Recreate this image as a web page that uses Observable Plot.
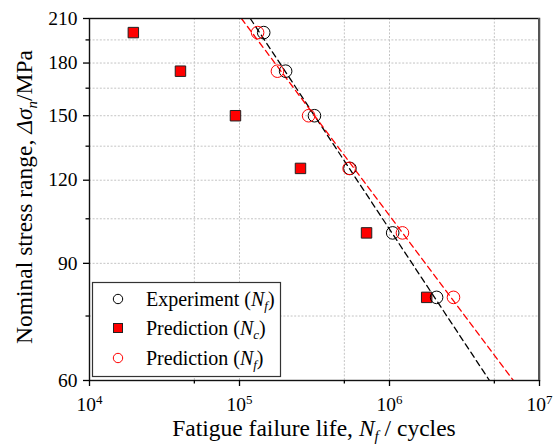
<!DOCTYPE html>
<html>
<head>
<meta charset="utf-8">
<script src="https://cdn.jsdelivr.net/npm/d3@7"></script>
<script src="https://cdn.jsdelivr.net/npm/@observablehq/plot@0.6"></script>
<style>
  html, body { margin: 0; padding: 0; background: white; }
  #chart svg { display: block; }
  #chart svg, #chart svg text, #chart svg tspan { font-family: "Liberation Serif", "Times New Roman", serif !important; }
</style>
</head>
<body>
<div id="chart"></div>
<script>
// Stress ranges (MPa)
const stressLevels = [200, 175, 150, 125, 100, 80];
// Fatigue lives (cycles)
const experimentNf = [1.45e5, 2.03e5, 3.16e5, 5.45e5, 1.05e6, 2.06e6];
const predictionNc = [1.96e4, 4.04e4, 9.4e4, 2.55e5, 7.03e5, 1.77e6];
const predictionNf = [1.32e5, 1.79e5, 2.89e5, 5.38e5, 1.22e6, 2.67e6];
// Fitted S-N lines (end points)
const expFitN = [1.18e5, 4.64e6];
const expFitS = [210, 60];
const predFitN = [1.03e5, 6.7e6];
const predFitS = [210, 60];
// Axis ticks
const xMajorTicks = [1e4, 1e5, 1e6, 1e7];
const xMinorTicks = [5e4, 5e5, 5e6];
const yMajorTicks = [60, 90, 120, 150, 180, 210];
const yMinorTicks = [75, 105, 135, 165, 195];

const expData = stressLevels.map((s, i) => ({S: s, N: experimentNf[i]}));
const ncData = stressLevels.map((s, i) => ({S: s, N: predictionNc[i]}));
const nfData = stressLevels.map((s, i) => ({S: s, N: predictionNf[i]}));
const expFit = expFitN.map((n, i) => ({N: n, S: expFitS[i]}));
const predFit = predFitN.map((n, i) => ({N: n, S: predFitS[i]}));

const gridStyle = {stroke: "#c4c4c4", strokeOpacity: 1, strokeDasharray: "2,1.6", strokeWidth: 1};

const svg = Plot.plot({
  width: 559,
  height: 445,
  marginLeft: 89,
  marginRight: 20,
  marginTop: 18,
  marginBottom: 65,
  x: {type: "log", domain: [1e4, 1e7]},
  y: {type: "log", domain: [60, 210]},
  style: {fontSize: "19.5px", color: "#000", background: "white"},
  marks: [
    Plot.gridX(xMinorTicks.concat([1e5, 1e6]), gridStyle),
    Plot.gridY(yMinorTicks.concat([90, 120, 150, 180]), gridStyle),
    Plot.line(expFit, {x: "N", y: "S", stroke: "black", strokeWidth: 1.3, strokeDasharray: "6,4", clip: true}),
    Plot.line(predFit, {x: "N", y: "S", stroke: "red", strokeWidth: 1.3, strokeDasharray: "6,4", clip: true}),
    Plot.dot(ncData, {x: "N", y: "S", symbol: "square", r: 5.9, fill: "red", stroke: "#222", strokeWidth: 1}),
    Plot.dot(expData, {x: "N", y: "S", symbol: "circle", r: 6.3, fill: "none", stroke: "black", strokeWidth: 1}),
    Plot.dot(nfData, {x: "N", y: "S", symbol: "circle", r: 6.3, fill: "none", stroke: "red", strokeWidth: 1}),
    Plot.frame({stroke: "#111", strokeWidth: 1.4}),
    Plot.axisX(xMajorTicks, {tickSize: 6, tickPadding: 11, tickFormat: d => String(Math.round(Math.log10(d))), label: null, strokeWidth: 1.3}),
    Plot.axisX(xMinorTicks, {tickSize: 3.5, tickFormat: () => "", label: null, strokeWidth: 1.3}),
    Plot.axisY(yMajorTicks, {tickSize: 6, tickPadding: 6, tickFormat: d => String(d), label: null, strokeWidth: 1.3}),
    Plot.axisY(yMinorTicks, {tickSize: 3.5, tickFormat: () => "", label: null, strokeWidth: 1.3})
  ]
});

svg.setAttribute("font-family", "'Liberation Serif', 'Times New Roman', serif");
document.getElementById("chart").appendChild(svg);

const root = d3.select(svg);
// Right border slightly heavier and grey, as in the reference
root.append("line").attr("x1", 539).attr("x2", 539).attr("y1", 18).attr("y2", 380)
  .attr("stroke", "#555").attr("stroke-width", 2);

// Superscript exponents on x tick labels
root.selectAll('g[aria-label="x-axis tick label"] text').each(function() {
  const e = this.textContent;
  if (e) this.innerHTML = `10<tspan dy="-7" font-size="13px">${e}</tspan>`;
});

// Axis titles
root.append("text")
  .attr("x", 314).attr("y", 436)
  .attr("text-anchor", "middle")
  .attr("font-size", "23.5px")
  .attr("fill", "#000")
  .html(`Fatigue failure life, <tspan font-style="italic">N</tspan><tspan font-style="italic" font-size="15px" dy="5">f</tspan><tspan dy="-5"> / cycles</tspan>`);

root.append("text")
  .attr("transform", "translate(32,197) rotate(-90)")
  .attr("text-anchor", "middle")
  .attr("font-size", "23.5px")
  .attr("fill", "#000")
  .html(`Nominal stress range, <tspan font-style="italic">Δσ</tspan><tspan font-style="italic" font-size="15px" dy="5">n</tspan><tspan dy="-5">/MPa</tspan>`);

// Legend
const lg = root.append("g").attr("font-size", "20px").attr("text-anchor", "start");
lg.append("rect").attr("x", 92.5).attr("y", 282.5).attr("width", 188).attr("height", 94)
  .attr("fill", "white").attr("stroke", "#333").attr("stroke-width", 1.2);
const items = [
  {y: 299, kind: "circle", color: "black", label: `Experiment (<tspan font-style="italic">N</tspan><tspan font-style="italic" font-size="13px" dy="4">f</tspan><tspan dy="-4">)</tspan>`},
  {y: 328, kind: "square", color: "red", label: `Prediction (<tspan font-style="italic">N</tspan><tspan font-style="italic" font-size="13px" dy="4">c</tspan><tspan dy="-4">)</tspan>`},
  {y: 358, kind: "circle", color: "red", label: `Prediction (<tspan font-style="italic">N</tspan><tspan font-style="italic" font-size="13px" dy="4">f</tspan><tspan dy="-4">)</tspan>`}
];
for (const it of items) {
  if (it.kind === "circle") {
    lg.append("circle").attr("cx", 118).attr("cy", it.y).attr("r", 4.7)
      .attr("fill", "none").attr("stroke", it.color).attr("stroke-width", 1);
  } else {
    lg.append("rect").attr("x", 113.5).attr("y", it.y - 4.5).attr("width", 9).attr("height", 9)
      .attr("fill", "red").attr("stroke", "#222").attr("stroke-width", 1);
  }
  lg.append("text").attr("x", 146).attr("y", it.y + 7).attr("fill", "#000").html(it.label);
}
</script>
</body>
</html>
